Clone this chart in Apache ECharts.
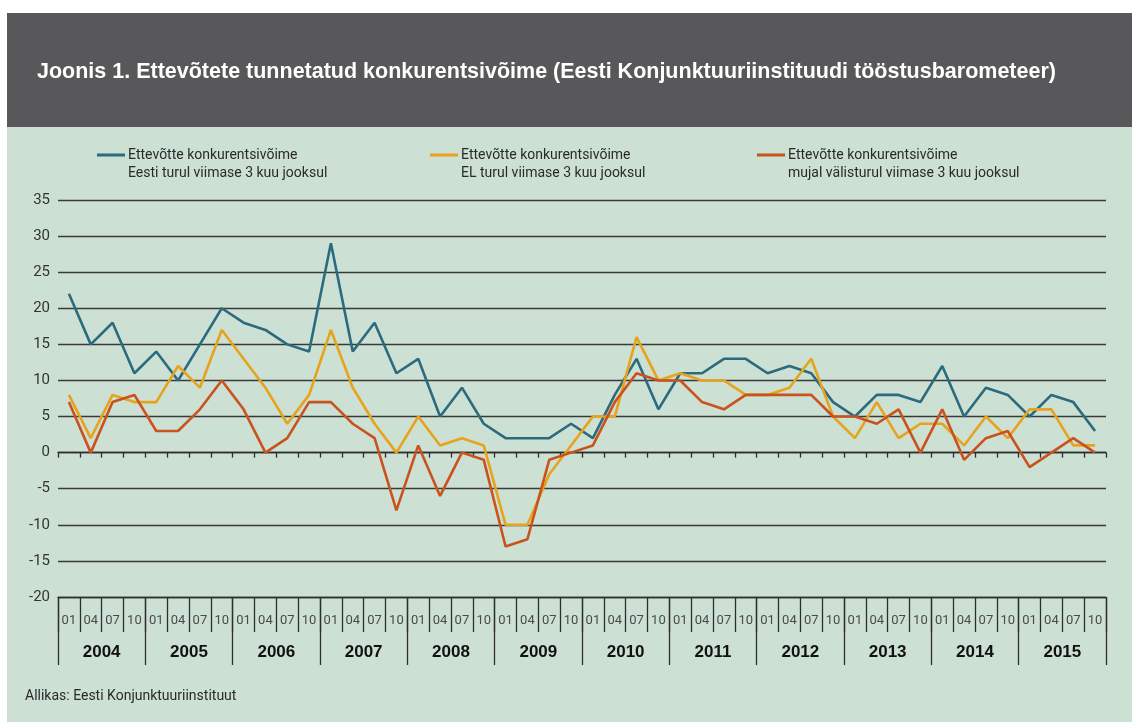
<!DOCTYPE html>
<html>
<head>
<meta charset="utf-8">
<script src="https://cdn.jsdelivr.net/npm/echarts@6/dist/echarts.min.js"></script>
<style>
  html, body { margin: 0; padding: 0; background: #fff; }
  #chart { width: 1132px; height: 722px; }
</style>
</head>
<body>
<div id="chart"></div>
<script>
// andmed (loetud jooniselt)
const years = ['2004', '2005', '2006', '2007', '2008', '2009', '2010', '2011', '2012', '2013', '2014', '2015'];
const months = ['01', '04', '07', '10'];
const quarters = years.flatMap((y) => months.map((m) => y + '-' + m));

const eestiTurul = [22, 15, 18, 11, 14, 10, 15, 20, 18, 17, 15, 14, 29, 14, 18, 11, 13, 5, 9, 4, 2, 2, 2, 4,
  2, 8, 13, 6, 11, 11, 13, 13, 11, 12, 11, 7, 5, 8, 8, 7, 12, 5, 9, 8, 5, 8, 7, 3];
const elTurul = [8, 2, 8, 7, 7, 12, 9, 17, 13, 9, 4, 8, 17, 9, 4, 0, 5, 1, 2, 1, -10, -10, -3, 1,
  5, 5, 16, 10, 11, 10, 10, 8, 8, 9, 13, 5, 2, 7, 2, 4, 4, 1, 5, 2, 6, 6, 1, 1];
const mujalTurul = [7, 0, 7, 8, 3, 3, 6, 10, 6, 0, 2, 7, 7, 4, 2, -8, 1, -6, 0, -1, -13, -12, -1, 0,
  1, 7, 11, 10, 10, 7, 6, 8, 8, 8, 8, 5, 5, 4, 6, 0, 6, -1, 2, 3, -2, 0, 2, 0];

const seriesNames = [
  'Ettevõtte konkurentsivõime\nEesti turul viimase 3 kuu jooksul',
  'Ettevõtte konkurentsivõime\nEL turul viimase 3 kuu jooksul',
  'Ettevõtte konkurentsivõime\nmujal välisturul viimase 3 kuu jooksul',
];
const seriesData = [eestiTurul, elTurul, mujalTurul];
const colors = ['#2b6b7e', '#e6a31c', '#c9521d'];
const legendX = [97, 430, 757];

const title = 'Joonis 1. Ettevõtete tunnetatud konkurentsivõime (Eesti Konjunktuuriinstituudi tööstusbarometeer)';
const source = 'Allikas: Eesti Konjunktuuriinstituut';

const lineColor = '#2e2e2e';
const chart = echarts.init(document.getElementById('chart'));

// legend joonistatakse käsitsi, et ikoon oleks esimese rea kõrgusel
const legendGraphics = [];
seriesNames.forEach((name, i) => {
  legendGraphics.push({
    type: 'line',
    shape: { x1: legendX[i], y1: 155, x2: legendX[i] + 28, y2: 155 },
    style: { stroke: colors[i], lineWidth: 3 },
  });
  legendGraphics.push({
    type: 'text',
    x: legendX[i] + 31,
    y: 146,
    style: {
      text: name,
      fill: '#2a2a2a',
      font: '14px Roboto',
      lineHeight: 18,
    },
  });
});

chart.setOption({
  animation: false,
  backgroundColor: '#ffffff',
  graphic: [
    { type: 'rect', shape: { x: 7, y: 13, width: 1125, height: 114 }, style: { fill: '#58585a' }, z: -10 },
    { type: 'rect', shape: { x: 7, y: 127, width: 1125, height: 595 }, style: { fill: '#cde0d4' }, z: -10 },
    {
      type: 'text',
      x: 37,
      y: 72,
      style: { text: title, fill: '#ffffff', font: 'bold 21.5px "Liberation Sans"', verticalAlign: 'middle' },
    },
    {
      type: 'text',
      x: 25,
      y: 689,
      style: { text: source, fill: '#2a2a2a', font: '14px Roboto' },
    },
    ...legendGraphics,
  ],
  grid: {
    left: 58,
    right: 26,
    top: 200,
    bottom: 125,
  },
  xAxis: [
    {
      type: 'category',
      data: quarters,
      axisLine: { onZero: true, lineStyle: { color: lineColor, width: 1.3 } },
      axisTick: { show: true, interval: 0, length: 5, lineStyle: { color: lineColor, width: 1.3 } },
      axisLabel: { show: false },
    },
    {
      type: 'category',
      data: quarters,
      position: 'bottom',
      axisLine: { onZero: false, lineStyle: { color: lineColor, width: 1.3 } },
      axisTick: { show: true, interval: 0, length: 35, lineStyle: { color: lineColor, width: 1.3 } },
      axisLabel: {
        interval: 0,
        margin: 17,
        fontSize: 13,
        fontFamily: 'Roboto',
        color: '#4a4a4a',
        formatter: (v) => v.slice(5),
      },
    },
    {
      type: 'category',
      data: years,
      position: 'bottom',
      axisLine: { show: false, onZero: false },
      axisTick: { show: true, interval: 0, length: 68, lineStyle: { color: lineColor, width: 1.3 } },
      axisLabel: {
        interval: 0,
        margin: 47,
        fontSize: 17,
        fontWeight: 'bold',
        fontFamily: 'Liberation Sans',
        color: '#111',
      },
    },
  ],
  yAxis: {
    type: 'value',
    min: -20,
    max: 35,
    interval: 5,
    axisLine: { show: false },
    axisTick: { show: false },
    axisLabel: { margin: 8, fontSize: 15, fontFamily: 'Roboto', color: '#333' },
    splitLine: { lineStyle: { color: '#3a3a3a', width: 1.3 } },
  },
  series: seriesData.map((d, i) => ({
    name: seriesNames[i],
    type: 'line',
    data: d,
    xAxisIndex: 0,
    symbol: 'none',
    lineStyle: { color: colors[i], width: 2.6 },
    itemStyle: { color: colors[i] },
  })),
});
</script>
</body>
</html>
